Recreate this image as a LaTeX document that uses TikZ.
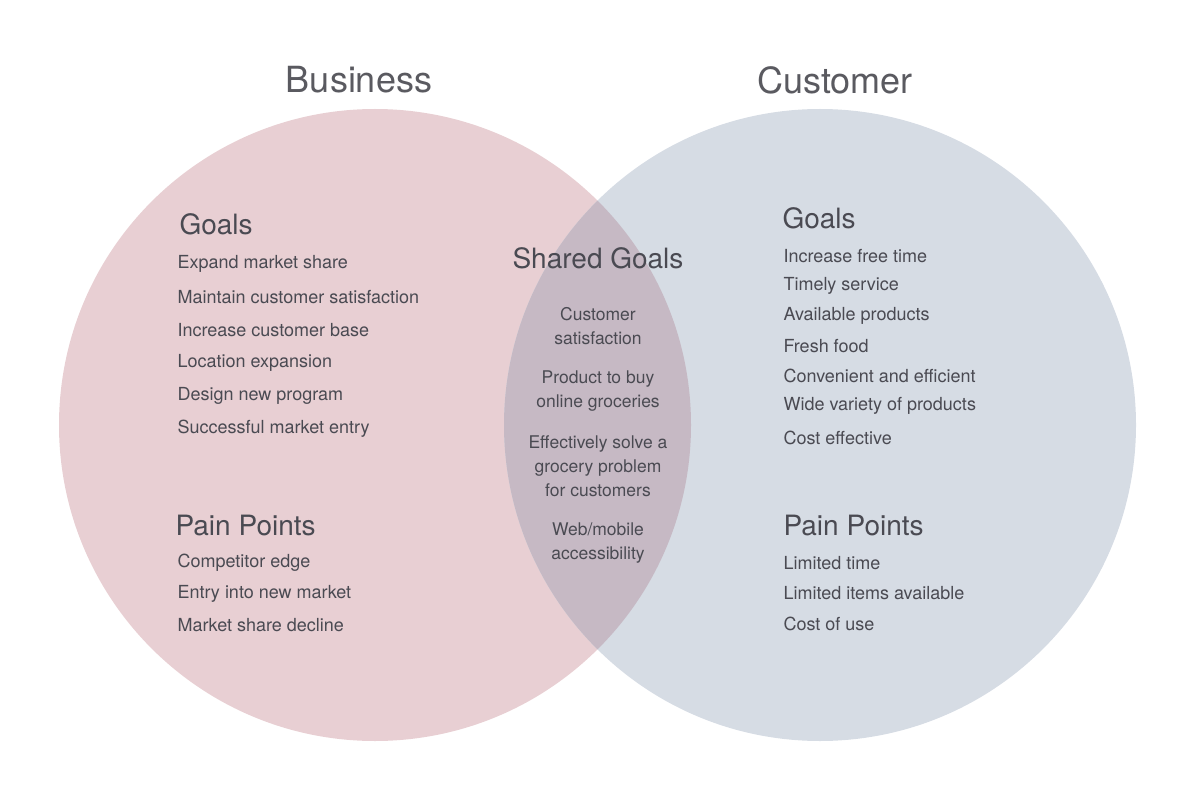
\documentclass[tikz,border=0pt]{standalone}
\usepackage{fontspec}
\setmainfont{TeX Gyre Heros}
\definecolor{bizpink}{HTML}{E8CFD3}
\definecolor{custblue}{HTML}{D6DCE4}
\definecolor{sharedmix}{HTML}{C6B9C4}
\definecolor{inkgray}{HTML}{4A4A52}
\definecolor{titlegray}{HTML}{5A5A60}
\tikzset{
  heading/.style={anchor=west, text=inkgray, font=\fontsize{28}{30}\selectfont},
  item/.style={anchor=west, text=inkgray, font=\fontsize{18}{20}\selectfont},
  shared/.style={text=inkgray, align=center, font=\fontsize{17.5}{24}\selectfont},
  title/.style={text=titlegray, font=\fontsize{36}{40}\selectfont},
}
\begin{document}
\begin{tikzpicture}[x=1pt, y=-1pt]
\useasboundingbox (0,0) rectangle (1183,810);

% circles
\fill[bizpink] (375,425) circle (316);
\fill[custblue] (820,425) circle (316);
\begin{scope}
  \clip (375,425) circle (316);
  \fill[sharedmix] (820,425) circle (316);
\end{scope}

% titles
\node[title] (biz) at (359,80) {Business};
\node[title] (cust) at (835,80) {Customer};

% business side
\node[heading] (bgoals) at (176,224) {Goals};
\foreach \txt [count=\i] in {Expand market share, Maintain customer satisfaction,
  Increase customer base, Location expansion, Design new program, Successful market entry}
  \node[item] (bg\i) at (174,{264+33*(\i-1)}) {\txt};
\node[heading] (bpain) at (172,526) {Pain Points};
\foreach \txt/\y [count=\i] in {Competitor edge/563, Entry into new market/594, Market share decline/625}
  \node[item] (bp\i) at (174,\y) {\txt};

% customer side
\node[heading] (cgoals) at (779,218) {Goals};
\foreach \txt/\y [count=\i] in {Increase free time/256, Timely service/286, Available products/316,
  Fresh food/346, Convenient and efficient/376, Wide variety of products/406, Cost effective/438}
  \node[item] (cg\i) at (780,\y) {\txt};
\node[heading] (cpain) at (780,526) {Pain Points};
\foreach \txt/\y [count=\i] in {Limited time/563, Limited items available/593, Cost of use/624}
  \node[item] (cp\i) at (780,\y) {\txt};

% shared
\node[heading, anchor=center] (sgoals) at (598,258) {Shared Goals};
\node[shared] (s1) at (598,326) {Customer\\satisfaction};
\node[shared] (s2) at (598,391) {Product to buy\\online groceries};
\node[shared] (s3) at (598,466) {Effectively solve a\\grocery problem\\for customers};
\node[shared] (s4) at (598,543) {Web/mobile\\accessibility};
\end{tikzpicture}
\end{document}
